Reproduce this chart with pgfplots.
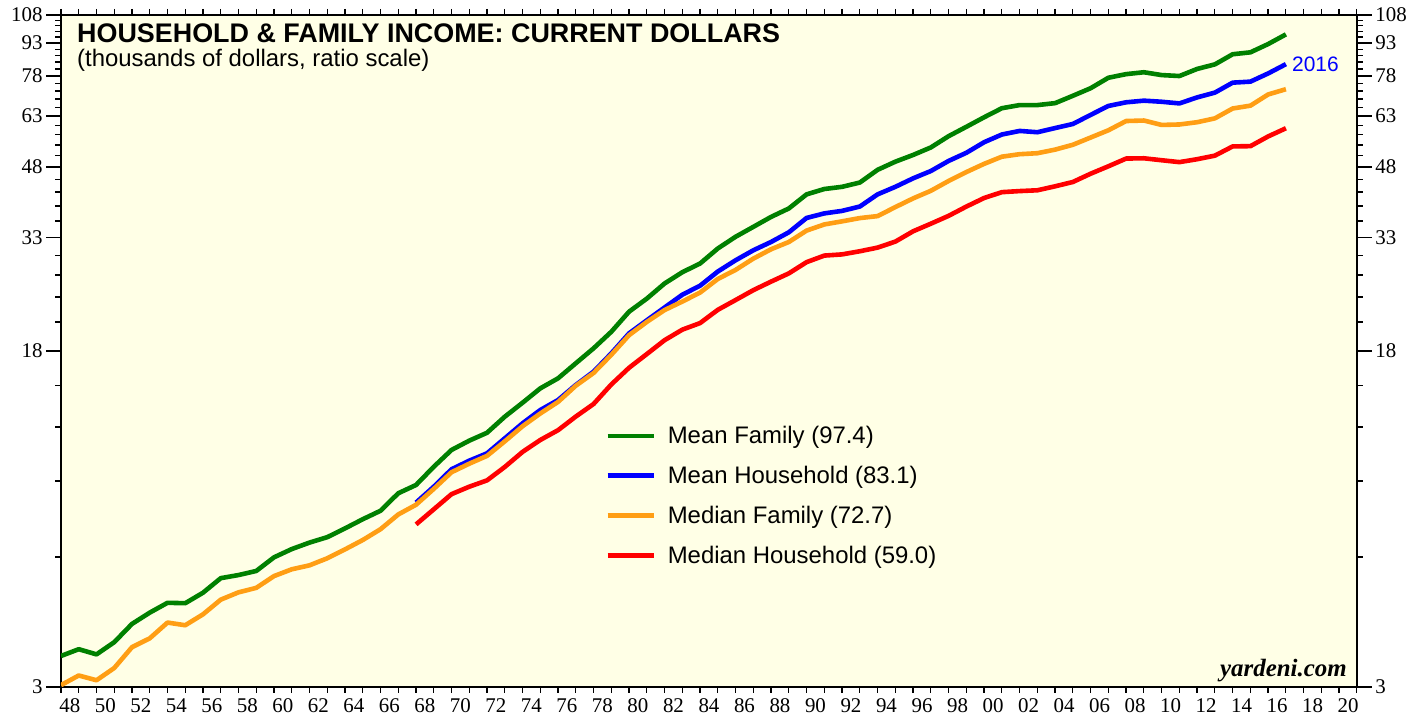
\documentclass[border=0pt]{standalone}
\usepackage{pgfplots}
\usepackage{pgfplotstable}
\pgfplotsset{compat=1.18}
\usepackage{fontspec}
\setmainfont{Liberation Sans}
\newfontfamily\timesf{Liberation Serif}

\definecolor{bgy}{RGB}{255,255,230}
\definecolor{cgreen}{RGB}{0,128,0}
\definecolor{cblue}{RGB}{0,0,255}
\definecolor{corange}{RGB}{255,158,20}
\definecolor{cred}{RGB}{255,0,0}

% thousands of current dollars; year = calendar year of the estimate
\pgfplotstableread{
year mfam  mhh   mdfam mdhh
1947 3.54  nan   3.03  nan
1948 3.67  nan   3.19  nan
1949 3.57  nan   3.11  nan
1950 3.81  nan   3.32  nan
1951 4.20  nan   3.71  nan
1952 4.46  nan   3.89  nan
1953 4.70  nan   4.23  nan
1954 4.69  nan   4.17  nan
1955 4.96  nan   4.42  nan
1956 5.36  nan   4.78  nan
1957 5.45  nan   4.97  nan
1958 5.57  nan   5.09  nan
1959 5.99  nan   5.42  nan
1960 6.26  nan   5.62  nan
1961 6.48  nan   5.74  nan
1962 6.67  nan   5.96  nan
1963 6.99  nan   6.25  nan
1964 7.34  nan   6.57  nan
1965 7.68  nan   6.96  nan
1966 8.43  nan   7.53  nan
1967 8.81  8.02  7.93  7.14
1968 9.71  8.73  8.63  7.74
1969 10.62 9.58  9.43  8.39
1970 11.16 10.03 9.87  8.73
1971 11.64 10.43 10.29 9.03
1972 12.68 11.30 11.12 9.70
1973 13.66 12.24 12.05 10.51
1974 14.75 13.14 12.90 11.20
1975 15.56 13.86 13.72 11.80
1976 16.86 15.02 14.96 12.69
1977 18.26 16.12 16.01 13.57
1978 19.95 17.78 17.64 15.06
1979 22.20 19.78 19.59 16.46
1980 23.80 21.20 21.02 17.71
1981 25.80 22.70 22.39 19.07
1982 27.40 24.30 23.43 20.17
1983 28.70 25.50 24.58 20.89
1984 31.10 27.50 26.43 22.42
1985 33.10 29.20 27.74 23.62
1986 34.90 30.80 29.46 24.90
1987 36.80 32.20 30.97 26.06
1988 38.50 33.90 32.19 27.23
1989 41.50 36.60 34.21 28.91
1990 42.70 37.50 35.35 29.94
1991 43.20 38.00 35.94 30.13
1992 44.20 38.90 36.57 30.64
1993 47.30 41.50 36.96 31.24
1994 49.40 43.20 38.78 32.26
1995 51.20 45.20 40.61 34.08
1996 53.30 47.00 42.30 35.49
1997 56.60 49.60 44.57 37.01
1998 59.50 51.80 46.74 38.89
1999 62.60 54.80 48.83 40.70
2000 65.70 57.10 50.73 41.99
2001 66.80 58.20 51.41 42.23
2002 66.80 57.80 51.68 42.41
2003 67.50 59.10 52.68 43.32
2004 70.20 60.40 54.06 44.33
2005 73.10 63.40 56.19 46.33
2006 77.30 66.50 58.41 48.20
2007 78.80 67.80 61.36 50.23
2008 79.60 68.40 61.52 50.30
2009 78.40 68.00 60.09 49.78
2010 78.00 67.40 60.24 49.28
2011 81.00 69.60 60.97 50.05
2012 83.00 71.40 62.24 51.02
2013 87.60 75.30 65.60 53.59
2014 88.50 75.70 66.60 53.66
2015 92.50 79.10 70.70 56.52
2016 97.40 83.10 72.71 59.04
}\income

\begin{document}
\begin{tikzpicture}
\useasboundingbox (-61bp,-32bp) rectangle (1364bp,687bp);
\begin{axis}[
  scale only axis, width=1296bp, height=672bp,
  xmin=1948, xmax=2021,
  ymode=log, ymin=3, ymax=108,
  ytick={3,18,33,48,63,78,93,108},
  yticklabels={3,18,33,48,63,78,93,108},
  minor ytick={6,9,12,15,21,24,27,30,36,39,42,45,51,54,57,60,66,69,72,75,81,84,87,90,96,99,102,105},
  tick align=outside,
  major tick length=15bp, minor tick length=6bp,
  every tick/.style={black, line width=1.3bp},
  yticklabel style={font=\timesf\fontsize{21}{23}\selectfont},
  ytick pos=left,
  axis background/.style={fill=bgy},
  axis line style={line width=2.6bp},
  xtick={1948.5,1950.5,...,2020.5},
  xticklabels={48,50,52,54,56,58,60,62,64,66,68,70,72,74,76,78,80,82,84,86,88,90,92,94,96,98,00,02,04,06,08,10,12,14,16,18,20},
  major x tick style={draw=none},
  minor xtick={1948,1949,...,2021},
  xticklabel style={font=\timesf\fontsize{21}{23}\selectfont, yshift=7bp},
  legend style={at={(rel axis cs:0.4175,0.394)}, anchor=north west, draw=none, fill=none,
    font=\fontsize{24}{27}\selectfont, row sep=17bp, column sep=10bp},
  legend cell align=left,
  legend image code/.code={\draw[#1] (0bp,0bp) -- (46bp,0bp);},
  every axis plot/.append style={line width=4.6bp, line join=round},
]
\addplot[cgreen]  table[x expr=\thisrow{year}+1, y=mfam]  {\income};
\addlegendentry{Mean Family (97.4)}
\addplot[cblue]   table[x expr=\thisrow{year}+1, y=mhh]   {\income};
\addlegendentry{Mean Household (83.1)}
\addplot[corange] table[x expr=\thisrow{year}+1, y=mdfam] {\income};
\addlegendentry{Median Family (72.7)}
\addplot[cred]    table[x expr=\thisrow{year}+1, y=mdhh]  {\income};
\addlegendentry{Median Household (59.0)}

\node[anchor=base west, inner sep=0, xshift=16bp, yshift=-28bp,
  font=\bfseries\fontsize{27}{30}\selectfont] at (rel axis cs:0,1)
  {HOUSEHOLD \& FAMILY INCOME: CURRENT DOLLARS};
\node[anchor=base west, inner sep=0, xshift=16bp, yshift=-52bp,
  font=\fontsize{24}{27}\selectfont] at (rel axis cs:0,1)
  {(thousands of dollars, ratio scale)};
\node[anchor=west, inner sep=0, xshift=6bp, text=cblue,
  font=\fontsize{21}{24}\selectfont] at (axis cs:2017,83.1) {2016};
\node[anchor=base east, inner sep=0, xshift=-10bp, yshift=10bp,
  font=\timesf\bfseries\itshape\fontsize{25}{28}\selectfont] at (rel axis cs:1,0)
  {yardeni.com};
\end{axis}
\begin{axis}[
  scale only axis, width=1296bp, height=672bp,
  xmin=1948, xmax=2021,
  ymode=log, ymin=3, ymax=108,
  ytick={3,18,33,48,63,78,93,108},
  yticklabels={3,18,33,48,63,78,93,108},
  minor ytick={6,9,12,15,21,24,27,30,36,39,42,45,51,54,57,60,66,69,72,75,81,84,87,90,96,99,102,105},
  tick align=outside,
  major tick length=15bp, minor tick length=6bp,
  every tick/.style={black, line width=1.3bp},
  yticklabel style={font=\timesf\fontsize{21}{23}\selectfont},
  hide x axis,
  axis y line*=right,
  yticklabel pos=right,
  y axis line style={line width=2.6bp},
]
\end{axis}
\end{tikzpicture}
\end{document}
